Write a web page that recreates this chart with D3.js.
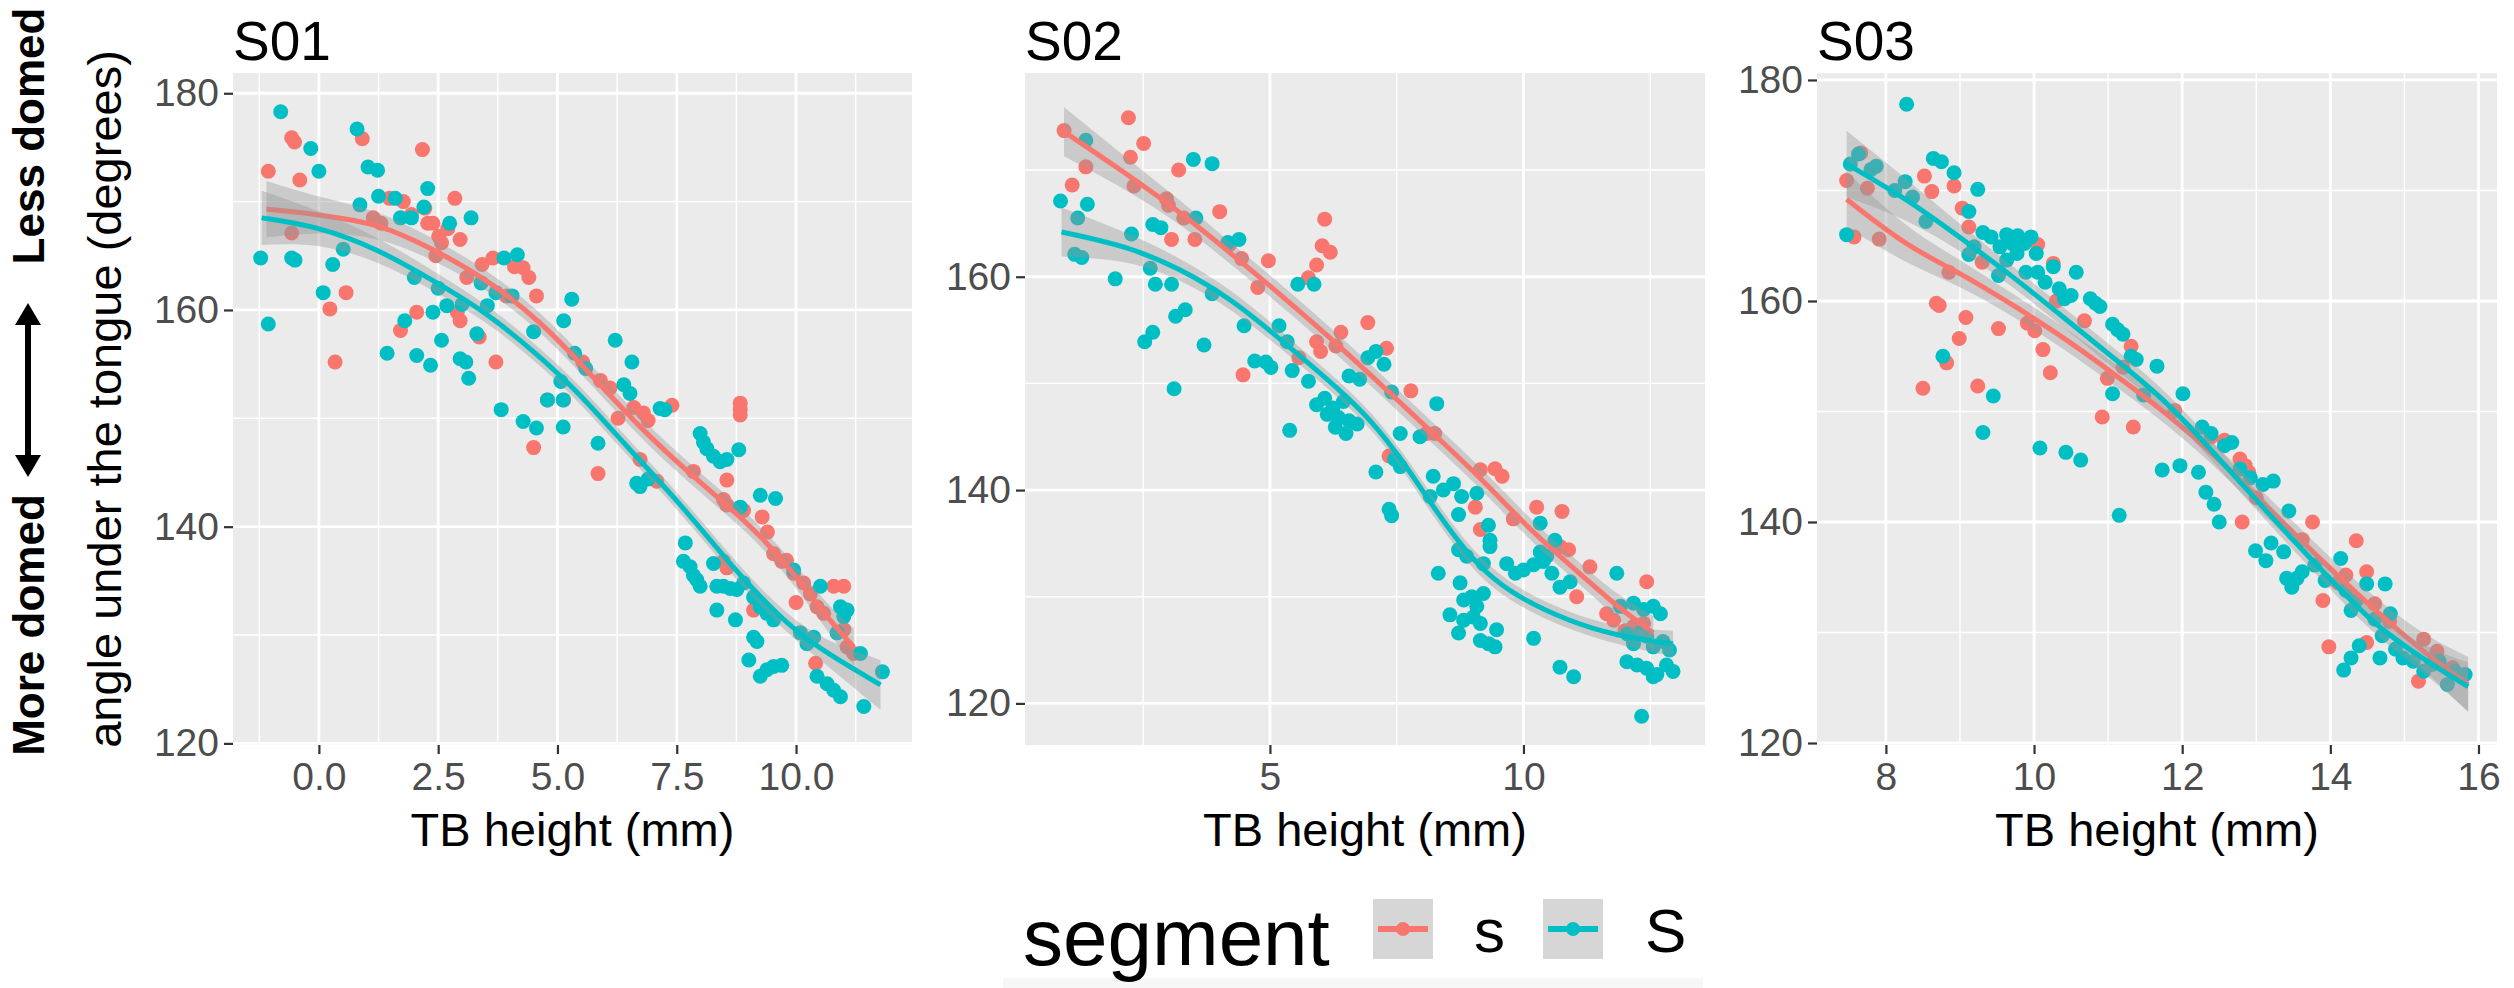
<!DOCTYPE html>
<html>
<head>
<meta charset="utf-8">
<script src="https://d3js.org/d3.v7.min.js"></script>
<style>
  body { margin: 0; background: #fff; }
  svg { display: block; }
  text { font-family: "Liberation Sans", Arial, sans-serif; }
</style>
</head>
<body>
<div id="vis"></div>
<script>
// ---------- data ----------
const PANEL_TITLES = ["S01", "S02", "S03"];
const SEGMENTS = ["s", "S"];
const SEGMENT_COLORS = ["#F8766D", "#00BFC4"];

const X_LIMITS = [[-1.80, 12.43], [0.17, 13.58], [7.07, 16.25]];
const Y_LIMITS = [[119.85, 181.87], [116.1, 179.1], [119.82, 180.63]];
const X_TICKS = [[0, 2.5, 5, 7.5, 10], [5, 10], [8, 10, 12, 14, 16]];
const X_TICK_LABELS = [["0.0", "2.5", "5.0", "7.5", "10.0"], ["5", "10"], ["8", "10", "12", "14", "16"]];
const X_MINOR = [[-1.25, 1.25, 3.75, 6.25, 8.75, 11.25], [2.5, 7.5, 12.5], [9, 11, 13, 15]];
const Y_TICKS = [[120, 140, 160, 180], [120, 140, 160], [120, 140, 160, 180]];
const Y_MINOR = [[130, 150, 170], [130, 150, 170], [130, 150, 170]];

// points [TB height, angle]
const S01_s = [[-1.06,172.8],[-0.57,175.9],[-0.51,175.5],[-0.57,167.1],[-0.4,172.0],[0.23,160.1],[0.34,155.2],[0.57,161.6],[0.91,175.8],[1.14,168.5],[1.48,170.3],[1.77,170.0],[1.94,168.8],[1.71,158.1],[2.17,174.8],[2.22,169.4],[2.28,168.0],[2.39,168.0],[2.51,166.8],[2.57,166.2],[2.05,159.8],[2.45,165.0],[2.85,170.3],[2.9,159.8],[2.96,159.0],[2.96,166.5],[3.36,157.5],[3.42,164.2],[3.65,164.8],[3.71,155.2],[3.93,161.3],[4.1,164.0],[4.28,163.9],[4.4,163.0],[4.5,147.3],[4.56,161.3],[4.79,151.7],[5.13,151.7],[5.53,155.2],[5.9,153.5],[6.1,152.8],[6.27,150.0],[6.6,151.0],[1.3,168.0],[2.7,167.5],[3.1,163.0],
  [5.85,144.9],[6.73,146.2],[6.8,150.5],[6.9,149.8],[7.08,144.2],[7.4,151.2],[7.85,145.1],[8.55,144.3],[8.48,142.5],[8.55,142.0],[8.83,151.4],[8.83,150.8],[8.83,150.3],[9.29,140.9],[8.48,136.8],[8.55,136.2],[9.11,132.3],[9.53,137.5],[9.7,136.8],[9.8,136.9],[9.95,135.7],[10.16,134.8],[10.3,133.8],[10.79,134.5],[11.0,134.5],[10.44,132.6],[10.58,132.0],[10.41,127.4],[11.0,130.5],[11.07,128.9],[11.21,128.3],[8.9,141.5],[9.4,139.5],[10.0,133.0]];
const S01_S = [[-0.80,178.3],[-1.22,164.8],[-1.06,158.7],[-0.57,164.8],[-0.5,164.6],[-0.17,174.9],[0.00,172.8],[0.09,161.6],[0.29,164.2],[0.51,165.6],[0.80,176.7],[0.86,169.7],[1.03,173.2],[1.23,172.9],[1.25,170.5],[1.43,156.0],[1.60,170.3],[1.71,168.5],[1.80,159.0],[1.94,168.5],[2.00,163.0],[2.05,155.8],[2.28,171.2],[2.34,154.9],[2.39,159.8],[2.2,169.5],[2.57,157.2],[2.68,160.4],[2.74,168.0],[2.96,155.5],[3.08,155.2],[3.14,153.7],[3.19,168.5],[3.31,157.8],[3.53,160.4],[3.71,161.6],[3.82,150.8],[3.88,164.8],[4.05,161.3],[4.16,165.1],[4.28,149.7],[4.56,149.1],[4.79,151.7],[3.0,160.5],[3.4,162.5],[2.5,162.0],[4.5,158.0],
  [5.07,153.4],[5.30,161.0],[5.13,159.0],[5.36,156.0],[5.59,154.6],[6.21,157.2],[6.39,153.1],[6.56,155.2],[6.90,144.4],
  [5.12,151.7],[5.12,149.2],[6.52,152.3],[7.15,150.9],[7.25,150.8],[5.85,147.7],[6.66,144.0],[6.73,143.7],[7.99,148.6],[8.06,147.8],[8.13,147.2],[8.27,146.5],[8.41,146.0],[8.55,146.2],[8.8,147.1],[9.25,142.9],[9.57,142.6],[8.83,141.8],[7.68,138.5],[7.64,136.8],[7.78,136.3],[7.85,135.5],[7.92,135.1],[7.99,134.5],[8.27,136.6],[8.34,134.5],[8.48,134.5],[8.62,134.3],[8.76,134.2],[8.9,134.8],[8.34,132.3],[8.73,131.4],[9.11,133.5],[9.25,132.6],[9.39,132.0],[9.53,131.4],[9.11,129.8],[9.18,129.4],[9.01,127.7],[9.25,126.2],[9.39,126.8],[9.53,127.1],[9.7,127.2],[9.95,136.0],[10.09,130.2],[10.23,129.2],[10.37,129.8],[10.51,134.5],[10.93,132.6],[11.07,132.3],[11.0,131.7],[10.86,130.2],[10.44,126.2],[10.65,125.5],[10.79,124.9],[10.93,124.3],[11.42,123.4],[11.35,128.3],[11.81,126.6]];

const S02_s = [[0.94,173.7],[1.10,168.6],[1.37,170.3],[2.21,174.9],[2.25,171.2],[2.32,168.5],[2.51,172.5],[3.2,170.0],[2.96,167.3],[3.0,166.7],[3.06,163.5],[3.52,163.5],[4.01,166.1],[4.44,161.7],[4.47,150.8],[4.76,159.0],[4.97,161.5],[5.57,152.4],[5.76,159.9],[5.92,161.1],[6.03,162.9],[6.08,165.4],[6.19,162.3],[5.92,153.9],[6.0,153.0],[6.4,154.8],[6.93,155.7],[7.3,153.3],[7.35,143.2],[7.78,149.3],[8.09,145.3],[8.25,145.3],[3.3,165.5],[4.2,163.0],[6.3,153.5],
  [9.15,141.9],[9.44,142.0],[9.58,141.3],[9.05,138.4],[9.15,136.3],[10.26,138.4],[10.76,138.0],[9.8,137.3],[10.89,134.4],[11.31,132.8],[11.05,130.0],[12.43,131.4],[11.64,128.4],[11.78,127.8],[12.17,127.2],[12.37,127.5],[10.72,134.7],[12.0,126.8]];
const S02_S = [[0.87,167.1],[1.21,165.5],[1.15,162.1],[1.29,161.8],[1.37,172.8],[1.40,166.8],[1.95,159.8],[2.27,164.0],[2.53,153.9],[2.69,154.8],[2.64,160.8],[2.74,159.3],[2.69,164.9],[2.85,164.6],[3.11,149.5],[3.14,156.3],[3.33,156.9],[3.06,159.3],[3.49,171.0],[3.86,170.6],[3.54,165.5],[3.70,153.6],[3.86,158.4],[4.17,163.2],[4.39,163.5],[4.49,155.4],[4.70,152.1],[4.92,152.0],[5.02,151.5],[5.18,155.4],[5.34,153.9],[5.44,151.2],[5.39,145.6],[5.55,159.3],[5.87,159.3],[5.76,150.2],[5.92,148.0],[6.08,148.6],[6.13,147.1],[6.24,147.7],[6.35,146.8],[6.45,148.3],[6.56,146.5],[6.29,145.9],[6.50,145.3],[6.72,146.2],[6.56,150.7],[6.77,150.4],[6.93,152.4],[7.09,153.0],[7.25,151.8],[7.40,149.2],[7.09,141.7],[7.35,138.2],[7.40,137.6],[7.46,142.9],
  [7.57,145.3],[7.57,142.2],[7.96,145.0],[8.29,148.1],[8.22,141.3],[8.62,140.6],[8.78,139.4],[8.42,140.0],[8.16,139.4],[8.72,137.7],[9.08,139.7],[9.31,136.7],[9.34,135.3],[8.72,134.4],[8.88,133.8],[9.21,133.1],[9.34,134.7],[8.32,132.2],[8.75,131.3],[8.82,129.7],[8.98,130.0],[9.21,130.3],[9.08,129.1],[8.55,128.3],[8.82,127.8],[9.01,128.1],[9.15,127.5],[8.72,126.6],[9.15,125.9],[9.31,125.6],[9.44,125.3],[9.47,126.9],[9.67,133.1],[9.84,132.2],[10.0,132.5],[10.2,133.0],[10.39,133.3],[10.56,132.2],[10.33,134.2],[10.46,133.8],[10.33,136.9],[10.62,135.3],[10.72,130.9],[10.92,131.4],[10.2,126.1],[10.72,123.4],[10.99,122.5],[11.84,132.2],[11.91,129.1],[12.17,129.4],[12.37,128.8],[12.56,129.1],[12.7,128.4],[12.05,126.5],[12.17,125.6],[12.3,126.6],[12.43,126.3],[12.56,125.3],[12.75,125.8],[12.88,125.0],[12.04,123.9],[12.24,123.6],[12.43,123.3],[12.63,122.7],[12.82,123.6],[12.95,123.0],[12.56,122.5],[12.33,118.8]];

const S03_s = [[7.47,170.9],[7.57,165.8],[7.66,173.4],[7.75,170.2],[7.91,165.6],[8.52,171.3],[8.62,169.9],[8.5,152.1],[8.68,159.8],[8.72,159.6],[8.82,154.4],[8.85,162.6],[8.92,170.4],[9.03,168.4],[9.08,158.5],[9.12,166.7],[8.99,156.6],[9.24,152.3],[9.52,157.5],[9.91,158.0],[10.01,157.3],[10.05,165.1],[10.12,155.6],[10.22,153.5],[10.26,163.4],[10.68,158.2],[10.92,149.5],[10.99,153.0],[11.31,155.9],[11.34,148.6],[11.9,150.1],[12.39,147.7],[12.57,147.4],[12.78,145.7],[12.85,145.1],[12.81,140.0],[13.0,142.2],[13.76,140.0],[13.62,138.4],[13.9,132.9],[13.98,128.7],[14.21,135.2],[14.35,138.3],[14.49,135.5],[14.6,132.6],[14.49,129.1],[15.19,125.6],[15.26,129.4],[15.44,128.3],[15.65,126.8],[9.3,163.5],[10.3,160.0],[11.2,154.0],[12.9,144.5],[14.1,134.5],[14.8,131.0]];
const S03_S = [[7.47,166.0],[7.52,172.4],[7.63,173.3],[7.80,171.9],[7.87,172.2],[8.12,170.0],[8.26,170.8],[8.36,169.4],[8.28,177.8],[8.54,167.2],[8.64,172.9],[8.75,172.6],[8.77,155.0],[8.92,171.6],[9.12,168.1],[9.24,170.1],[9.12,164.2],[9.19,164.9],[9.31,166.2],[9.42,165.8],[9.45,151.4],[9.31,148.1],[9.54,164.9],[9.63,166.0],[9.70,165.2],[9.78,165.9],[9.87,165.2],[9.96,165.8],[10.03,164.3],[9.52,162.3],[9.63,163.7],[9.77,164.3],[9.89,162.6],[10.05,162.6],[10.15,161.7],[10.26,163.1],[10.34,161.1],[10.41,160.2],[10.50,160.5],[10.57,162.6],[10.08,146.7],[10.43,146.3],[10.63,145.6],[10.76,160.2],[10.83,159.8],[10.89,159.5],[11.06,157.9],[11.13,157.4],[11.20,157.0],[11.06,151.6],[11.15,140.6],[11.31,155.0],[11.38,154.7],[11.48,151.5],[11.66,154.1],[11.73,144.7],[12.01,151.6],[11.97,145.1],[12.22,144.5],[12.32,142.7],[12.43,141.6],[12.50,140.0],[12.27,148.6],[12.39,148.0],[12.57,146.9],[12.67,147.2],[12.78,144.8],[12.92,144.0],[13.09,143.4],[13.23,143.7],[12.99,137.4],[13.13,136.5],[13.20,138.1],[13.37,137.3],[13.41,134.9],[13.48,134.1],[13.55,134.9],[13.62,135.5],[13.44,141.0],[13.79,136.1],[13.93,134.7],[14.14,136.7],[14.21,133.8],[14.28,132.0],[14.35,132.9],[14.18,126.6],[14.28,127.7],[14.39,128.8],[14.49,134.4],[14.60,131.2],[14.70,129.7],[14.74,134.4],[14.81,131.7],[14.67,127.7],[14.88,128.5],[14.98,127.7],[15.12,127.4],[15.26,126.5],[15.37,127.1],[15.47,127.4],[15.58,125.3],[15.68,126.5],[15.82,126.2]];

// loess fits [x, fitted angle, half width of the confidence band]
const S01_s_fit = [[-1.1,169.3,2.6],[0,168.8,1.6],[1.25,168.0,1.2],[2.4,165.6,1.0],[3.5,162.9,0.9],[4.67,158.9,0.9],[5.75,153.8,0.9],[6.8,148.8,0.9],[7.85,144.6,0.9],[8.55,142.0,0.9],[9.25,139.2,0.9],[9.95,135.7,1.0],[10.65,131.6,1.2],[11.21,128.9,1.7]];
const S01_S_fit = [[-1.2,168.5,2.5],[0,167.7,1.5],[1.25,165.6,1.1],[2.4,162.7,0.9],[3.5,159.8,0.8],[4.5,156.2,0.8],[5.4,152.6,0.8],[6.45,147.4,0.8],[7.5,142.5,0.8],[8.55,136.9,0.8],[9.25,133.5,0.8],[9.95,130.5,0.9],[10.65,128.3,1.1],[11.77,125.4,2.3]];
const S02_s_fit = [[0.94,173.6,2.3],[2.16,169.7,1.5],[3.22,166.1,1.1],[4.28,162.0,1.0],[5.34,157.8,1.0],[6.4,153.4,1.0],[7.57,148.2,1.0],[8.22,145.3,1.0],[9.21,140.9,1.0],[10.2,135.9,1.0],[11.18,131.9,1.0],[11.84,129.1,1.1],[12.56,126.6,1.6]];
const S02_S_fit = [[0.89,164.2,2.3],[2.16,162.9,1.3],[3.22,160.8,1.0],[4.28,157.8,0.9],[5.34,153.6,0.8],[6.4,149.3,0.8],[7.0,146.5,0.8],[7.57,143.1,0.8],[8.22,138.4,0.9],[8.88,134.1,0.9],[9.41,131.6,0.9],[10.0,129.7,0.8],[10.85,127.8,0.8],[11.84,126.3,0.8],[12.95,125.6,1.2]];
const S03_s_fit = [[7.47,169.2,2.5],[8.29,164.9,1.6],[8.99,162.6,1.2],[9.7,159.7,1.0],[10.4,156.7,1.0],[11.1,153.3,1.0],[11.8,149.8,1.0],[12.5,145.7,1.0],[13.2,141.0,1.0],[13.9,136.4,1.0],[14.6,132.0,1.1],[15.3,128.0,1.6],[15.86,125.3,2.5]];
const S03_S_fit = [[7.47,172.4,3.0],[8.29,169.2,1.8],[8.99,165.8,1.2],[9.7,162.3,0.9],[10.4,158.5,0.9],[11.1,154.7,0.9],[11.8,150.9,0.9],[12.5,145.7,0.9],[13.2,140.5,0.9],[13.9,135.5,0.9],[14.6,130.6,0.9],[15.3,127.4,1.2],[15.86,125.1,2.2]];

const POINTS = [[S01_s, S01_S], [S02_s, S02_S], [S03_s, S03_S]];
const FITS = [[S01_s_fit, S01_S_fit], [S02_s_fit, S02_S_fit], [S03_s_fit, S03_S_fit]];

// ---------- layout ----------
const WIDTH = 2514, HEIGHT = 988;
const PANEL_TOP = 73, PANEL_BOTTOM = 745;
const PANEL_X = [[233, 912], [1025, 1705], [1817, 2497]];

const svg = d3.select("#vis").append("svg")
    .attr("width", WIDTH)
    .attr("height", HEIGHT);

svg.append("rect").attr("width", WIDTH).attr("height", HEIGHT).attr("fill", "#fff");

PANEL_TITLES.forEach((title, i) => {
    const [left, right] = PANEL_X[i];
    const X = d3.scaleLinear().domain(X_LIMITS[i]).range([left, right]);
    const Y = d3.scaleLinear().domain(Y_LIMITS[i]).range([PANEL_BOTTOM, PANEL_TOP]);
    const g = svg.append("g");

    g.append("clipPath").attr("id", "clip" + i)
        .append("rect")
            .attr("x", left).attr("y", PANEL_TOP)
            .attr("width", right - left).attr("height", PANEL_BOTTOM - PANEL_TOP);

    g.append("rect")
        .attr("x", left).attr("y", PANEL_TOP)
        .attr("width", right - left).attr("height", PANEL_BOTTOM - PANEL_TOP)
        .attr("fill", "#EBEBEB");

    // grid
    g.selectAll(".xminor").data(X_MINOR[i]).enter().append("line")
        .attr("x1", d => X(d)).attr("x2", d => X(d))
        .attr("y1", PANEL_TOP).attr("y2", PANEL_BOTTOM)
        .attr("stroke", "#fff").attr("stroke-width", 1.4);
    g.selectAll(".yminor").data(Y_MINOR[i]).enter().append("line")
        .attr("y1", d => Y(d)).attr("y2", d => Y(d))
        .attr("x1", left).attr("x2", right)
        .attr("stroke", "#fff").attr("stroke-width", 1.4);
    g.selectAll(".xmajor").data(X_TICKS[i]).enter().append("line")
        .attr("x1", d => X(d)).attr("x2", d => X(d))
        .attr("y1", PANEL_TOP).attr("y2", PANEL_BOTTOM)
        .attr("stroke", "#fff").attr("stroke-width", 2.8);
    g.selectAll(".ymajor").data(Y_TICKS[i]).enter().append("line")
        .attr("y1", d => Y(d)).attr("y2", d => Y(d))
        .attr("x1", left).attr("x2", right)
        .attr("stroke", "#fff").attr("stroke-width", 2.8);

    const plot = g.append("g").attr("clip-path", "url(#clip" + i + ")");

    // points
    SEGMENTS.forEach((seg, k) => {
        plot.selectAll(".pt" + k).data(POINTS[i][k]).enter().append("circle")
            .attr("cx", d => X(d[0]))
            .attr("cy", d => Y(d[1]))
            .attr("r", 7.5)
            .attr("fill", SEGMENT_COLORS[k]);
    });

    // smooths with confidence ribbons
    const band = d3.area()
        .x(d => X(d[0]))
        .y0(d => Y(d[1] - d[2]))
        .y1(d => Y(d[1] + d[2]))
        .curve(d3.curveBasis);
    const fitLine = d3.line()
        .x(d => X(d[0]))
        .y(d => Y(d[1]))
        .curve(d3.curveBasis);
    SEGMENTS.forEach((seg, k) => {
        plot.append("path").datum(FITS[i][k])
            .attr("d", band)
            .attr("fill", "#999999").attr("fill-opacity", 0.4);
        plot.append("path").datum(FITS[i][k])
            .attr("d", fitLine)
            .attr("fill", "none")
            .attr("stroke", SEGMENT_COLORS[k])
            .attr("stroke-width", 5);
    });

    // axes
    const yAxis = g.append("g")
        .attr("transform", "translate(" + left + ",0)")
        .call(d3.axisLeft(Y).tickValues(Y_TICKS[i]).tickSize(9).tickPadding(5));
    const xAxis = g.append("g")
        .attr("transform", "translate(0," + PANEL_BOTTOM + ")")
        .call(d3.axisBottom(X).tickValues(X_TICKS[i])
            .tickFormat((d, j) => X_TICK_LABELS[i][j]).tickSize(9).tickPadding(8));
    [yAxis, xAxis].forEach(ax => {
        ax.select(".domain").remove();
        ax.selectAll(".tick line").attr("stroke", "#333333").attr("stroke-width", 2.2);
        ax.selectAll(".tick text")
            .attr("fill", "#4D4D4D")
            .attr("font-size", "39px")
            .attr("font-family", "Liberation Sans, Arial, sans-serif");
    });

    // titles
    g.append("text")
        .attr("x", left).attr("y", 60)
        .attr("font-size", "55px").attr("fill", "#000")
        .text(title);
    g.append("text")
        .attr("x", (left + right) / 2).attr("y", 846)
        .attr("text-anchor", "middle")
        .attr("font-size", "47px").attr("fill", "#000")
        .text("TB height (mm)");
});

// y axis title (first panel only)
svg.append("text")
    .attr("transform", "translate(121,399) rotate(-90)")
    .attr("text-anchor", "middle")
    .attr("font-size", "47px").attr("fill", "#000")
    .text("angle under the tongue (degrees)");

// left-hand annotation
const note = svg.append("g").attr("font-family", "Lato, 'Liberation Sans', sans-serif")
    .attr("font-weight", "bold").attr("font-size", "44px").attr("fill", "#000");
note.append("text")
    .attr("transform", "translate(44,136) rotate(-90)")
    .attr("text-anchor", "middle")
    .text("Less domed");
note.append("text")
    .attr("transform", "translate(44,625) rotate(-90)")
    .attr("text-anchor", "middle")
    .text("More domed");
const ARROW_X = 28, ARROW_TOP = 303, ARROW_BOTTOM = 477;
svg.append("line")
    .attr("x1", ARROW_X).attr("x2", ARROW_X)
    .attr("y1", ARROW_TOP + 18).attr("y2", ARROW_BOTTOM - 18)
    .attr("stroke", "#000").attr("stroke-width", 6);
svg.append("path")
    .attr("d", "M" + ARROW_X + "," + ARROW_TOP + " l-13,22 l26,0 Z M" + ARROW_X + "," + ARROW_BOTTOM + " l-13,-22 l26,0 Z")
    .attr("fill", "#000");

// legend
const legend = svg.append("g");
legend.append("rect").attr("x", 1003).attr("y", 978).attr("width", 700).attr("height", 10).attr("fill", "#F7F7F7");
legend.append("text")
    .attr("x", 1023).attr("y", 965)
    .attr("font-size", "80px").attr("fill", "#000")
    .text("segment");
const KEY_X = [1373, 1543], LABEL_X = [1474, 1645];
SEGMENTS.forEach((seg, k) => {
    legend.append("rect")
        .attr("x", KEY_X[k]).attr("y", 899).attr("width", 60).attr("height", 60)
        .attr("fill", "#D6D6D6");
    legend.append("line")
        .attr("x1", KEY_X[k] + 5).attr("x2", KEY_X[k] + 55)
        .attr("y1", 929).attr("y2", 929)
        .attr("stroke", SEGMENT_COLORS[k]).attr("stroke-width", 6);
    legend.append("circle")
        .attr("cx", KEY_X[k] + 30).attr("cy", 929).attr("r", 7)
        .attr("fill", SEGMENT_COLORS[k]);
    legend.append("text")
        .attr("x", LABEL_X[k]).attr("y", 952)
        .attr("font-size", "62px").attr("fill", "#000")
        .text(seg);
});
</script>
</body>
</html>
